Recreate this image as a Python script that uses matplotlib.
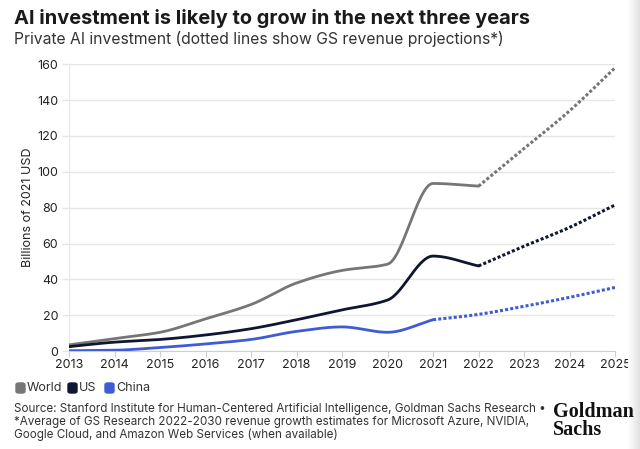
import numpy as np
import matplotlib
matplotlib.use("Agg")
import matplotlib.pyplot as plt
from matplotlib.patches import FancyBboxPatch

plt.rcParams['font.family'] = ['Inter', 'DejaVu Sans']

years = [2013, 2014, 2015, 2016, 2017, 2018, 2019, 2020, 2021, 2022]
proj_years = [2022, 2023, 2024, 2025]

world = [3.5, 7, 10.5, 18, 26, 38, 45, 48.5, 93.5, 92]
us = [2.5, 5, 6.5, 9, 12.5, 17.5, 23, 28.5, 53, 47.5]
china = [0.2, 0.5, 2, 4, 6.5, 11, 13.5, 10.5, 17.5]
china_years = years[:-1]

world_proj = [92, 113, 134, 158]
us_proj = [47.5, 58.5, 69, 81.5]
china_proj = [17.5, 20.5, 25, 30, 35.5]
china_proj_years = [2021, 2022, 2023, 2024, 2025]

colors = {'World': '#767676', 'US': '#0e1631', 'China': '#3f5bd6'}


def smooth(xs, ys, n=30, monotone=True):
    # cubic hermite, used only to draw a smooth curve through the points
    xs = np.asarray(xs, float)
    ys = np.asarray(ys, float)
    h = np.diff(xs)
    d = np.diff(ys) / h
    m = np.zeros_like(ys)
    m[0], m[-1] = d[0], d[-1]
    for i in range(1, len(ys) - 1):
        if not monotone:
            m[i] = (d[i - 1] + d[i]) / 2
        elif d[i - 1] * d[i] <= 0:
            m[i] = 0
        else:
            m[i] = 2 / (1 / d[i - 1] + 1 / d[i])
    ox, oy = [], []
    for i in range(len(xs) - 1):
        t = np.linspace(0, 1, n, endpoint=False)
        h00 = 2 * t**3 - 3 * t**2 + 1
        h10 = t**3 - 2 * t**2 + t
        h01 = -2 * t**3 + 3 * t**2
        h11 = t**3 - t**2
        ox.extend(xs[i] + t * h[i])
        oy.extend(h00 * ys[i] + h10 * h[i] * m[i] + h01 * ys[i + 1] + h11 * h[i] * m[i + 1])
    ox.append(xs[-1])
    oy.append(ys[-1])
    return np.array(ox), np.array(oy)


fig = plt.figure(figsize=(6.4, 4.49), dpi=100)
ax = fig.add_axes([0.108, 0.218, 0.853, 0.639])

for name, xs, ys in [('World', years, world), ('US', years, us), ('China', china_years, china)]:
    sx, sy = smooth(xs, ys)
    ax.plot(sx, sy, color=colors[name], lw=2, solid_capstyle='round', zorder=3)
for name, xs, ys in [('World', proj_years, world_proj), ('US', proj_years, us_proj),
                     ('China', china_proj_years, china_proj)]:
    sx, sy = smooth(xs, ys, monotone=False)
    ax.plot(sx, sy, color=colors[name], lw=2.2, ls=(0, (1.0, 0.7)), zorder=3)

ax.set_xlim(2013, 2025)
ax.set_ylim(0, 160)
ax.set_yticks(range(0, 161, 20))
ax.set_xticks(range(2013, 2026))
ax.grid(axis='y', color='#e6e6e6', lw=1)
ax.set_axisbelow(True)
for s in ['top', 'right']:
    ax.spines[s].set_visible(False)
ax.spines['left'].set_color('#e6e6e6')
ax.spines['bottom'].set_color('#cfcfcf')
ax.tick_params(axis='y', length=5, width=1, color='#e6e6e6', labelsize=9, pad=3, labelcolor='#222222')
ax.tick_params(axis='x', length=4, color='#cfcfcf', labelsize=9, pad=2, labelcolor='#222222')
ax.set_ylabel('Billions of 2021 USD', fontsize=9, color='#222222', labelpad=2)

fig.text(0.022, 0.958, 'AI investment is likely to grow in the next three years',
         fontsize=14.4, fontweight='bold', color='#1a1a1a', va='center')
fig.text(0.022, 0.913, 'Private AI investment (dotted lines show GS revenue projections*)',
         fontsize=11.3, color='#333333', va='center')

# legend
leg_y = 1 - 388 / 449
for name, x0 in [('World', 16), ('US', 68), ('China', 105)]:
    fig.patches.append(FancyBboxPatch((x0 / 640, leg_y - 5 / 449), 9 / 640, 10 / 449,
                                      boxstyle='round,pad=0,rounding_size=0.004',
                                      transform=fig.transFigure, color=colors[name]))
    fig.text((x0 + 11) / 640, leg_y, name, fontsize=9, color='#333333', va='center')

src = ("Source: Stanford Institute for Human-Centered Artificial Intelligence, Goldman Sachs Research \u2022\n"
       "*Average of GS Research 2022-2030 revenue growth estimates for Microsoft Azure, NVIDIA,\n"
       "Google Cloud, and Amazon Web Services (when available)")
fig.text(0.022, 1 - 422 / 449, src, fontsize=8.4, color='#333333', va='center', linespacing=1.05)
fig.text(553 / 640, 1 - 421 / 449, 'Goldman\nSachs', fontsize=14.5, fontweight='bold',
         family='Liberation Serif', color='#111111', va='center', linespacing=0.82)

# right edge shadow
sh = fig.add_axes([0.982, 0, 0.018, 1])
sh.imshow(np.linspace(1, 0.88, 50)[None, :], cmap='gray', vmin=0, vmax=1, aspect='auto', extent=[0, 1, 0, 1])
sh.axis('off')

fig.savefig('out.png', dpi=100)
